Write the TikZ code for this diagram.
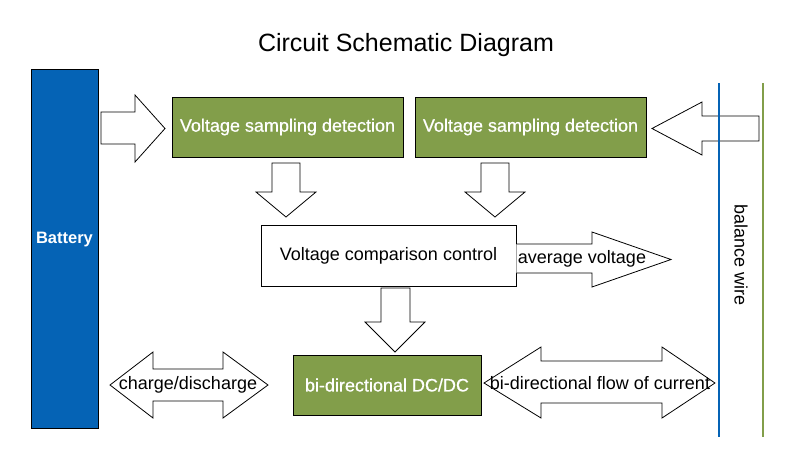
\documentclass[tikz,border=0pt]{standalone}
\usepackage{fontspec}
\setmainfont{Liberation Sans}
\newfontfamily\semibold[FakeBold=0.7]{Liberation Sans}
\definecolor{batblue}{RGB}{5,99,181}
\definecolor{boxgreen}{RGB}{130,158,74}
\begin{document}
\begin{tikzpicture}[x=1pt,y=-1pt,
  blk/.style={draw=black,line width=0.9pt,inner sep=0pt},
  greenbox/.style={blk,fill=boxgreen,minimum height=60pt},
  whitetxt/.style={text=white,font=\fontsize{18}{21}\semibold},
  blacktxt/.style={text=black,font=\fontsize{18}{21}\selectfont},
  barrow/.style={draw=black,line width=0.8pt,fill=white,line join=miter},
  wire/.style={line width=1.8pt}]
\useasboundingbox (0,0) rectangle (790,475);
\fill[white] (0,0) rectangle (790,475);
% title
\node[font=\fontsize{25}{29}\selectfont] (title) at (406,45) {Circuit Schematic Diagram};
% battery
\node[blk,fill=batblue,minimum width=67pt,minimum height=359pt] (battery) at (64.5,248.5) {};
\node[text=white,font=\fontsize{16.5}{19}\selectfont\bfseries] (batlabel) at (64.5,240) {Battery};
% sampling boxes
\node[greenbox,minimum width=231pt,whitetxt] (samp1) at (287.5,127) {Voltage sampling detection};
\node[greenbox,minimum width=231pt,whitetxt] (samp2) at (530.5,127) {Voltage sampling detection};
% comparison box
\node[blk,fill=white,minimum width=255pt,minimum height=61pt,blacktxt] (comp) at (388.5,255.5) {Voltage comparison control};
% DC/DC box
\node[greenbox,minimum width=188pt,whitetxt] (dcdc) at (387,385) {bi-directional DC/DC};
% block arrows
\draw[barrow] (101,112) -- (135,112) -- (135,95) -- (165,128.5) -- (135,162) -- (135,144) -- (101,144) -- cycle;
\draw[barrow] (759,116) -- (702,116) -- (702,102) -- (652,128.5) -- (702,155) -- (702,141) -- (759,141) -- cycle;
\draw[barrow] (272,163) -- (300,163) -- (300,192) -- (316,192) -- (286,217) -- (256,192) -- (272,192) -- cycle;
\draw[barrow] (481,163) -- (509,163) -- (509,192) -- (525,192) -- (495,217) -- (465,192) -- (481,192) -- cycle;
\draw[barrow] (381,288) -- (410,288) -- (410,322) -- (425,322) -- (395,352) -- (365,322) -- (381,322) -- cycle;
\fill[white] (comp.east |- 0,244) -- (592,244) -- (592,232) -- (671,259.5) -- (592,287) -- (592,273) -- (comp.east |- 0,273) -- cycle;
\draw[barrow,fill=none] (comp.east |- 0,244) -- (592,244) -- (592,232) -- (671,259.5) -- (592,287) -- (592,273) -- (comp.east |- 0,273);
\draw[barrow] (110,385) -- (153,352) -- (153,369) -- (223,369) -- (223,352) -- (268,385) -- (223,418) -- (223,401) -- (153,401) -- (153,418) -- cycle;
\draw[barrow] (484,383) -- (541,347) -- (541,361) -- (662,361) -- (662,347) -- (715,383) -- (662,418) -- (662,403) -- (541,403) -- (541,418) -- cycle;
% arrow labels
\node[blacktxt] (avg) at (582,259) {average voltage};
\node[blacktxt] (chg) at (188,385) {charge/discharge};
\node[blacktxt] (flow) at (600,383) {bi-directional flow of current};
% balance wires
\draw[wire,draw=batblue] (719,83) coordinate (bw1) -- (719,437) coordinate (bw2);
\draw[wire,draw=boxgreen] (763,83) coordinate (gw1) -- (763,437) coordinate (gw2);
\node[blacktxt,rotate=-90] (bal) at (741,255) {balance wire};
\end{tikzpicture}
\end{document}
